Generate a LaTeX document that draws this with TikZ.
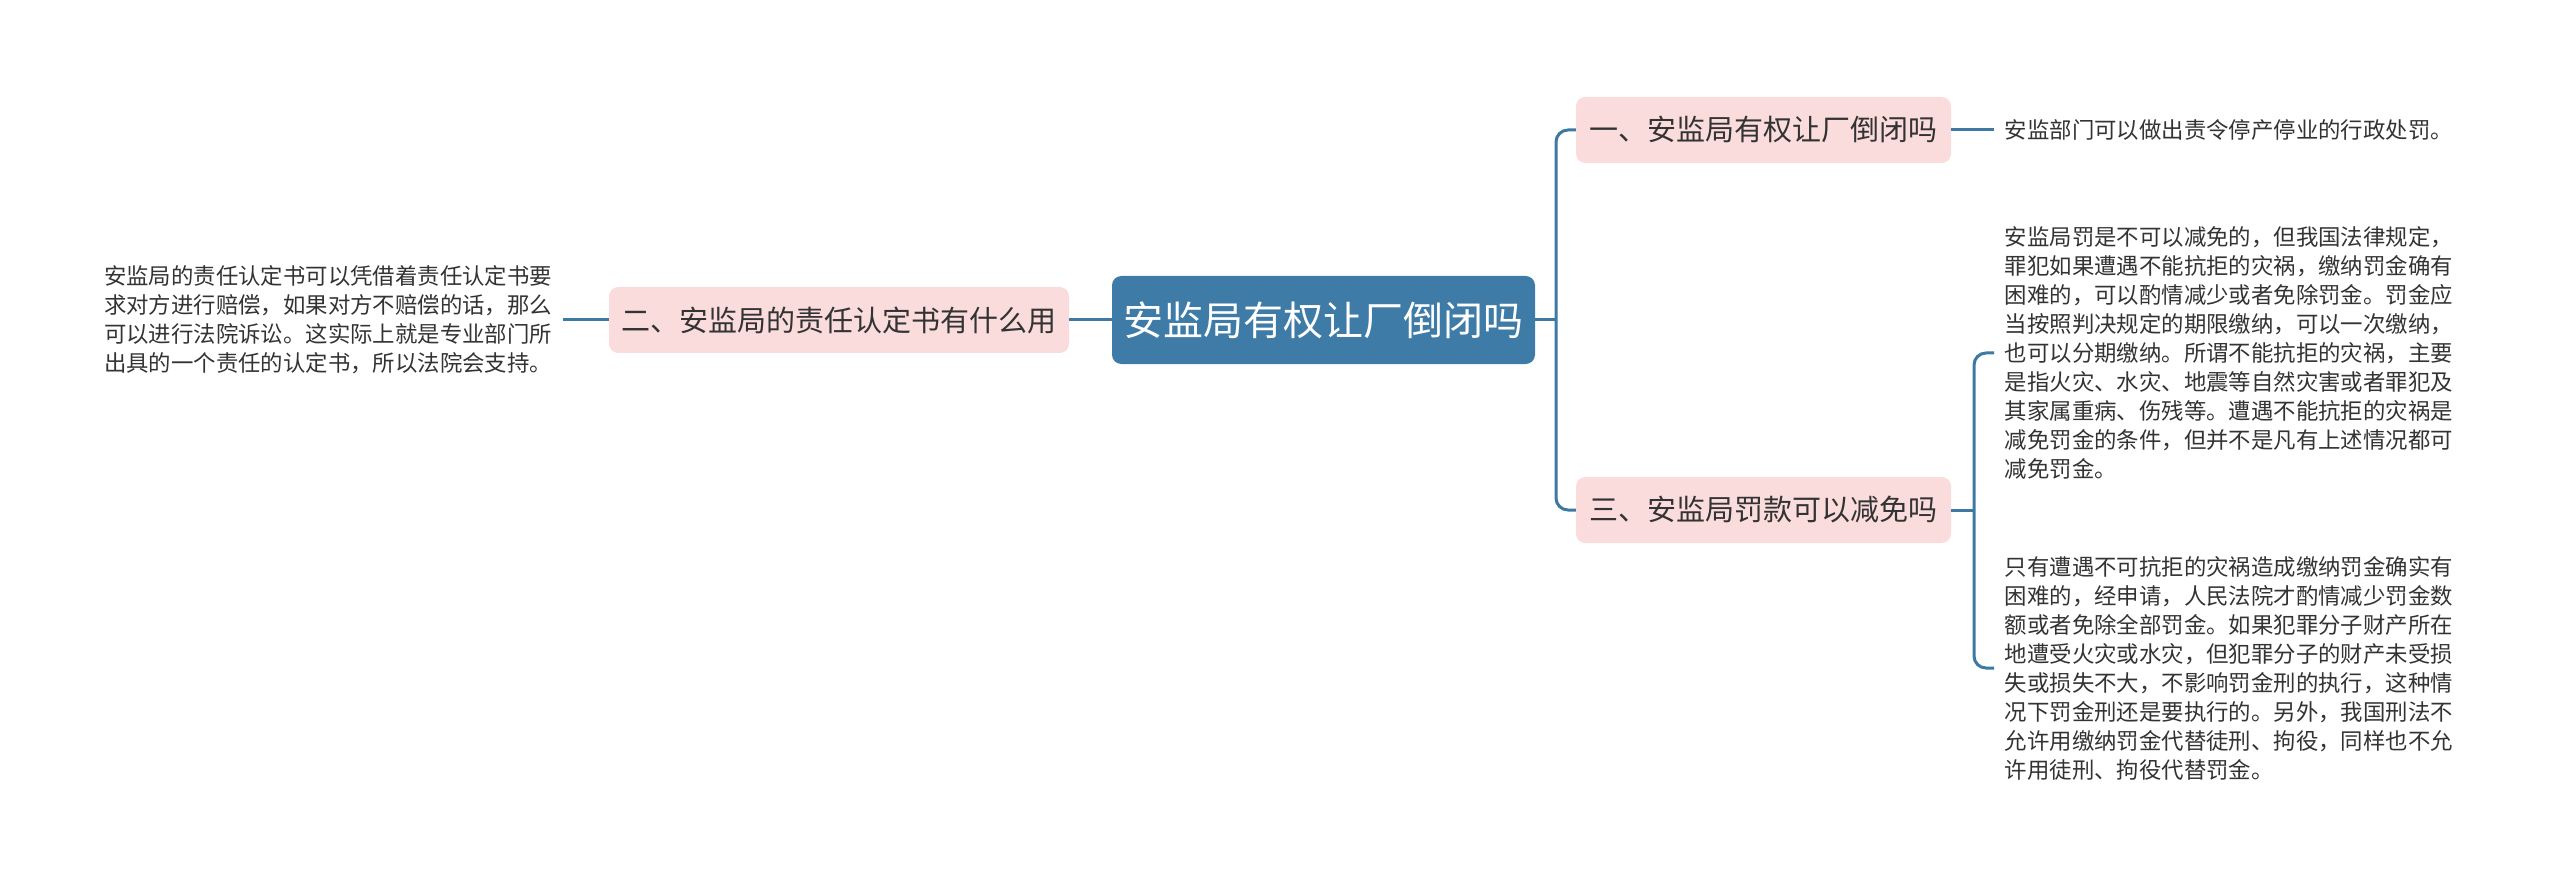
\documentclass[tikz,border=0pt]{standalone}
\usepackage{fontspec}
\newfontfamily\cjk{Noto Sans CJK SC}
\definecolor{rootblue}{HTML}{3E7BA6}
\definecolor{linkblue}{HTML}{3D79A3}
\definecolor{pinkbox}{HTML}{FADCDC}
\definecolor{txt}{HTML}{333333}
\tikzset{
  rootnode/.style={draw=none, fill=rootblue, rounded corners=7pt, text=white,
    font={\cjk\fontsize{30pt}{36pt}\selectfont},
    minimum width=317.25pt, minimum height=66pt, inner sep=0pt},
  topic/.style={draw=none, fill=pinkbox, rounded corners=7pt, text=txt,
    font={\cjk\fontsize{21.75pt}{26pt}\selectfont},
    minimum height=49.5pt, inner sep=0pt},
  leaf/.style={text=txt, align=left, inner ysep=0pt, inner xsep=8pt,
    font={\cjk\fontsize{16.8pt}{21.75pt}\selectfont}},
  conn/.style={draw=linkblue, line width=2.25pt, rounded corners=9pt}
}
\begin{document}
\begin{tikzpicture}[x=0.75pt,y=-0.75pt]
\useasboundingbox (0,0) rectangle (2560,891);

\node[rootnode] (root) at (1323.5,320) {安监局有权让厂倒闭吗};
\node[topic, minimum width=345pt] (b2) at (839,320) {二、安监局的责任认定书有什么用};
\node[topic, minimum width=281.25pt] (b1) at (1763.5,130) {一、安监局有权让厂倒闭吗};
\node[topic, minimum width=281.25pt] (b3) at (1763.5,510) {三、安监局罚款可以减免吗};

\node[leaf, anchor=east] (tl) at (563,320) {安监局的责任认定书可以凭借着责任认定书要\\
求对方进行赔偿，如果对方不赔偿的话，那么\\
可以进行法院诉讼。这实际上就是专业部门所\\
出具的一个责任的认定书，所以法院会支持。};

\node[leaf, anchor=west] (t1) at (1994,130) {安监部门可以做出责令停产停业的行政处罚。};

\node[leaf, anchor=west] (t3a) at (1994,353) {安监局罚是不可以减免的，但我国法律规定，\\
罪犯如果遭遇不能抗拒的灾祸，缴纳罚金确有\\
困难的，可以酌情减少或者免除罚金。罚金应\\
当按照判决规定的期限缴纳，可以一次缴纳，\\
也可以分期缴纳。所谓不能抗拒的灾祸，主要\\
是指火灾、水灾、地震等自然灾害或者罪犯及\\
其家属重病、伤残等。遭遇不能抗拒的灾祸是\\
减免罚金的条件，但并不是凡有上述情况都可\\
减免罚金。};

\node[leaf, anchor=west] (t3b) at (1994,668) {只有遭遇不可抗拒的灾祸造成缴纳罚金确实有\\
困难的，经申请，人民法院才酌情减少罚金数\\
额或者免除全部罚金。如果犯罪分子财产所在\\
地遭受火灾或水灾，但犯罪分子的财产未受损\\
失或损失不大，不影响罚金刑的执行，这种情\\
况下罚金刑还是要执行的。另外，我国刑法不\\
允许用缴纳罚金代替徒刑、拘役，同样也不允\\
许用徒刑、拘役代替罚金。};

\coordinate (j1) at (1556,320);
\coordinate (j3) at (1974,510);

\draw[conn] (root.east) -- (j1);
\draw[conn] (b1.west) -| (j1) |- (b3.west);
\draw[conn] (root.west) -- (b2.east);
\draw[conn] (b2.west) -- (tl.east);
\draw[conn] (b1.east) -- (t1.west);
\draw[conn] (b3.east) -- (j3);
\draw[conn] (t3a.west) -| (j3) |- (t3b.west);
\end{tikzpicture}
\end{document}
